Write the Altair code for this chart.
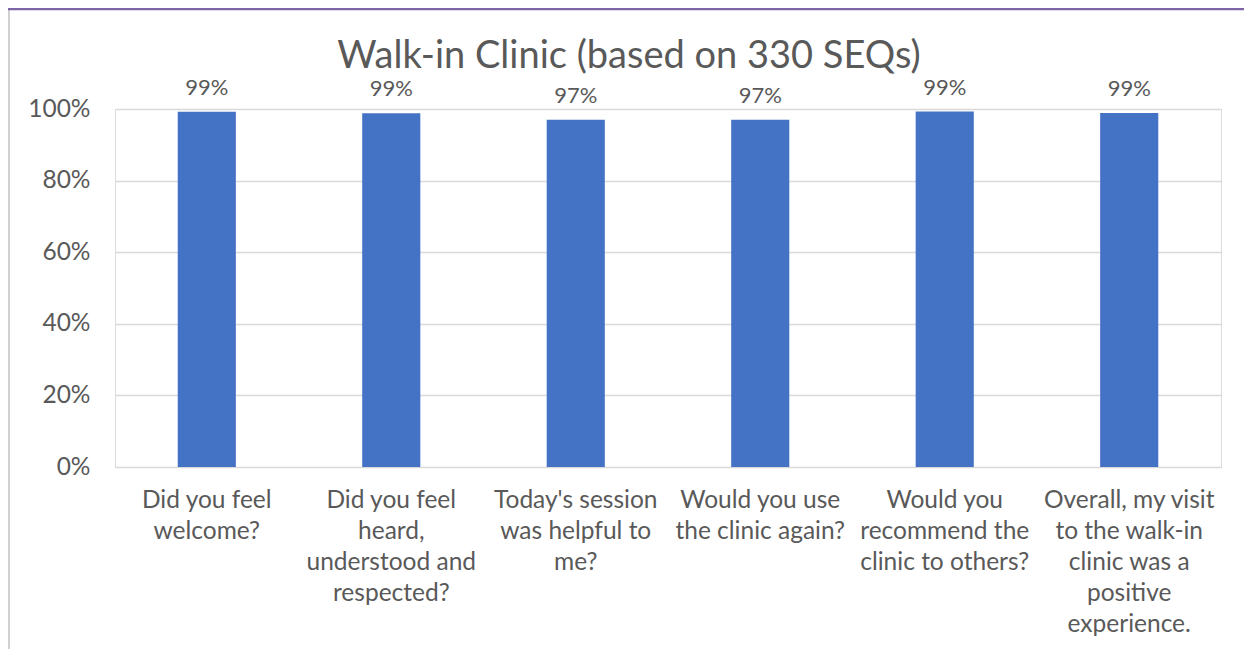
import altair as alt
import pandas as pd

categories = [
    "Did you feel\nwelcome?",
    "Did you feel\nheard,\nunderstood and\nrespected?",
    "Today's session\nwas helpful to\nme?",
    "Would you use\nthe clinic again?",
    "Would you\nrecommend the\nclinic to others?",
    "Overall, my visit\nto the walk-in\nclinic was a\npositive\nexperience.",
]
values = [0.992, 0.988, 0.970, 0.970, 0.993, 0.989]
labels = ["99%", "99%", "97%", "97%", "99%", "99%"]
title_text = "Walk-in Clinic (based on 330 SEQs)"

df = pd.DataFrame({"q": categories, "v": values, "lab": labels})

FONT = "Lato"
GREY = "#595959"

x_enc = alt.X(
    "q:N",
    sort=categories,
    title=None,
    scale=alt.Scale(paddingInner=0.685, paddingOuter=0.34),
    axis=alt.Axis(
        labelAngle=0,
        labelExpr="split(datum.label, '\\n')",
        labelFont=FONT,
        labelFontSize=24.5,
        labelColor=GREY,
        labelLineHeight=31,
        labelPadding=21,
        labelBaseline="top",
        labelLimit=300,
        ticks=False,
        domain=False,
        grid=False,
    ),
)

bars = alt.Chart(df).mark_bar(color="#4472C4").encode(
    x=x_enc,
    y=alt.Y(
        "v:Q",
        title=None,
        scale=alt.Scale(domain=[0, 1]),
        axis=alt.Axis(
            format=".0%",
            values=[0, 0.2, 0.4, 0.6, 0.8, 1.0],
            labelFont=FONT,
            labelFontSize=24.5,
            labelColor=GREY,
            labelPadding=25,
            ticks=False,
            domain=False,
            gridColor="#D9D9D9",
            gridWidth=1.5,
        ),
    ),
)

text = alt.Chart(df).mark_text(
    font=FONT, fontSize=22, color=GREY, baseline="bottom", dy=-12
).encode(
    x=alt.X("q:N", sort=categories),
    y="v:Q",
    text="lab:N",
)

frame = pd.DataFrame({"k": [0], "t": [title_text]})
title_mark = alt.Chart(frame).mark_text(
    font=FONT, fontSize=38, color=GREY, align="center", baseline="alphabetic"
).encode(x=alt.value(514), y=alt.value(-41), text="t:N")

left_border = alt.Chart(frame).mark_rule(color="#D0D0D0", strokeWidth=2).encode(
    x=alt.value(-106), y=alt.value(-99), y2=alt.value(540)
)
top_line = alt.Chart(frame).mark_rule(color="#7F63A8", strokeWidth=2.5).encode(
    x=alt.value(-107), x2=alt.value(1140), y=alt.value(-100)
)

chart = (
    alt.layer(bars, text, title_mark, left_border, top_line)
    .properties(
        width=1106,
        height=358,
        autosize=alt.AutoSizeParams(type="none"),
        padding={"left": 107, "top": 101, "right": 23, "bottom": 182},
    )
    .configure_view(stroke=None)
    .configure(background="white")
)

chart.save("out.html", embed_options={"renderer": "svg", "actions": False})
